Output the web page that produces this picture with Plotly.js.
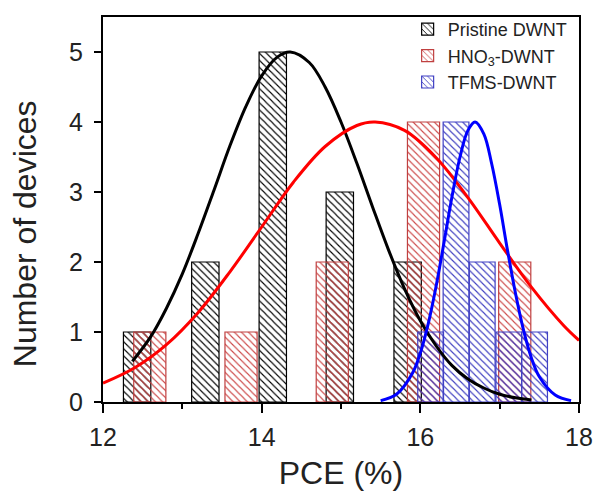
<!DOCTYPE html>
<html>
<head>
<meta charset="utf-8">
<script src="https://cdn.plot.ly/plotly-3.0.1.min.js"></script>
<style>html,body{margin:0;padding:0;background:#fff}#chart{width:598px;height:500px}</style>
</head>
<body>
<div id="chart"></div>
<script>
// ---- Histogram data (bin centres in PCE %, counts) ----
var pristineX = [12.43, 13.29, 14.14, 14.985, 15.84];
var pristineY = [1, 2, 5, 3, 2];
var hno3X = [12.59, 13.74, 14.89, 16.04, 17.19];
var hno3Y = [1, 1, 2, 4, 2];
var tfmsX = [16.13, 16.45, 16.78, 17.115, 17.44];
var tfmsY = [1, 4, 2, 1, 1];

// ---- Fitted distribution curves ----
var pristineFitX = [12.37, 12.6, 12.8, 13.0, 13.2, 13.4, 13.6, 13.8, 14.0, 14.2, 14.36, 14.6, 14.8, 15.0, 15.2, 15.4, 15.6, 15.8, 16.0, 16.2, 16.4, 16.6, 16.8, 17.0, 17.2, 17.4];
var pristineFitY = [0.58, 0.93, 1.34, 1.83, 2.41, 3.03, 3.66, 4.22, 4.66, 4.93, 5.0, 4.85, 4.50, 4.00, 3.41, 2.78, 2.17, 1.62, 1.16, 0.80, 0.52, 0.33, 0.20, 0.11, 0.06, 0.03];
var hno3FitX = [12.0, 12.4, 12.8, 13.2, 13.6, 14.0, 14.4, 14.8, 15.2, 15.43, 15.8, 16.2, 16.6, 17.0, 17.4, 17.8, 18.0];
var hno3FitY = [0.27, 0.49, 0.82, 1.28, 1.86, 2.50, 3.14, 3.65, 3.95, 4.0, 3.88, 3.49, 2.92, 2.27, 1.64, 1.10, 0.88];
var tfmsFitX = [15.5, 15.7, 15.9, 16.0, 16.1, 16.2, 16.3, 16.4, 16.5, 16.6, 16.69, 16.8, 16.9, 17.0, 17.1, 17.2, 17.3, 17.4, 17.5, 17.7, 17.9];
var tfmsFitY = [0.02, 0.11, 0.41, 0.70, 1.12, 1.66, 2.29, 2.94, 3.50, 3.88, 4.0, 3.83, 3.40, 2.82, 2.16, 1.55, 1.03, 0.63, 0.36, 0.10, 0.02];

var xTicks = [12, 14, 16, 18];
var yTicks = [0, 1, 2, 3, 4, 5];
var seriesNames = ['Pristine DWNT', 'HNO<sub>3</sub>-DWNT', 'TFMS-DWNT'];
var xTitle = 'PCE (%)';
var yTitle = 'Number of devices';

function barTrace(x, y, name, line, hatch, w) {
  return {
    type: 'bar', x: x, y: y, name: name, width: w,
    marker: {
      color: 'rgba(0,0,0,0)',
      line: {color: line, width: 1.2},
      pattern: {shape: '\\', fgcolor: hatch, bgcolor: 'rgba(0,0,0,0)', size: 5, solidity: 0.22}
    },
    hoverinfo: 'skip'
  };
}
function curve(x, y, c) {
  return {type: 'scatter', mode: 'lines', x: x, y: y, showlegend: false,
    line: {color: c, width: 3, shape: 'spline'}, hoverinfo: 'skip'};
}

var data = [
  barTrace(pristineX, pristineY, seriesNames[0], '#000000', '#000000', 0.345),
  barTrace(hno3X, hno3Y, seriesNames[1], '#c04040', '#cc4848', 0.405),
  barTrace(tfmsX, tfmsY, seriesNames[2], '#4040c4', '#3c3cc0', 0.325),
  curve(pristineFitX, pristineFitY, '#000000'),
  curve(hno3FitX, hno3FitY, '#ff0000'),
  curve(tfmsFitX, tfmsFitY, '#0000ff')
];

var font = 'Liberation Sans, Arial, sans-serif';
var layout = {
  width: 598, height: 500,
  margin: {l: 103, r: 19, t: 16, b: 98},
  paper_bgcolor: '#ffffff', plot_bgcolor: '#ffffff',
  barmode: 'overlay',
  font: {family: font, color: '#000'},
  showlegend: true,
  legend: {x: 0.64, xanchor: 'left', y: 1.013, yanchor: 'top', bgcolor: 'rgba(0,0,0,0)',
    font: {family: font, size: 18, color: '#222'}, tracegroupgap: 0},
  xaxis: {
    range: [12, 18], tickvals: xTicks, ticktext: xTicks.map(String),
    ticks: 'outside', ticklen: 9, tickwidth: 2, tickcolor: '#000',
    minor: {tickvals: [13, 15, 17], ticks: 'outside', ticklen: 5, tickwidth: 2, tickcolor: '#000', showgrid: false},
    showline: true, linewidth: 2, linecolor: '#000', mirror: true,
    showgrid: false, zeroline: false,
    tickfont: {family: font, size: 25, color: '#222'},
    ticklabelstandoff: 3,
    title: {text: xTitle, font: {family: font, size: 32, color: '#222'}, standoff: 12}
  },
  yaxis: {
    range: [0, 5.5], tickvals: yTicks, ticktext: yTicks.map(String),
    ticks: 'outside', ticklen: 7, tickwidth: 2, tickcolor: '#000',
    showline: true, linewidth: 2, linecolor: '#000', mirror: true,
    showgrid: false, zeroline: false,
    tickfont: {family: font, size: 25, color: '#222'},
    ticklabelstandoff: 6
  },
  annotations: [{
    text: yTitle, textangle: -90, showarrow: false,
    xref: 'paper', yref: 'paper', x: -0.165, y: 0.437, xanchor: 'center', yanchor: 'middle',
    font: {family: font, size: 32, color: '#222'}
  }]
};

Plotly.newPlot('chart', data, layout, {displayModeBar: false, staticPlot: true});
</script>
</body>
</html>
